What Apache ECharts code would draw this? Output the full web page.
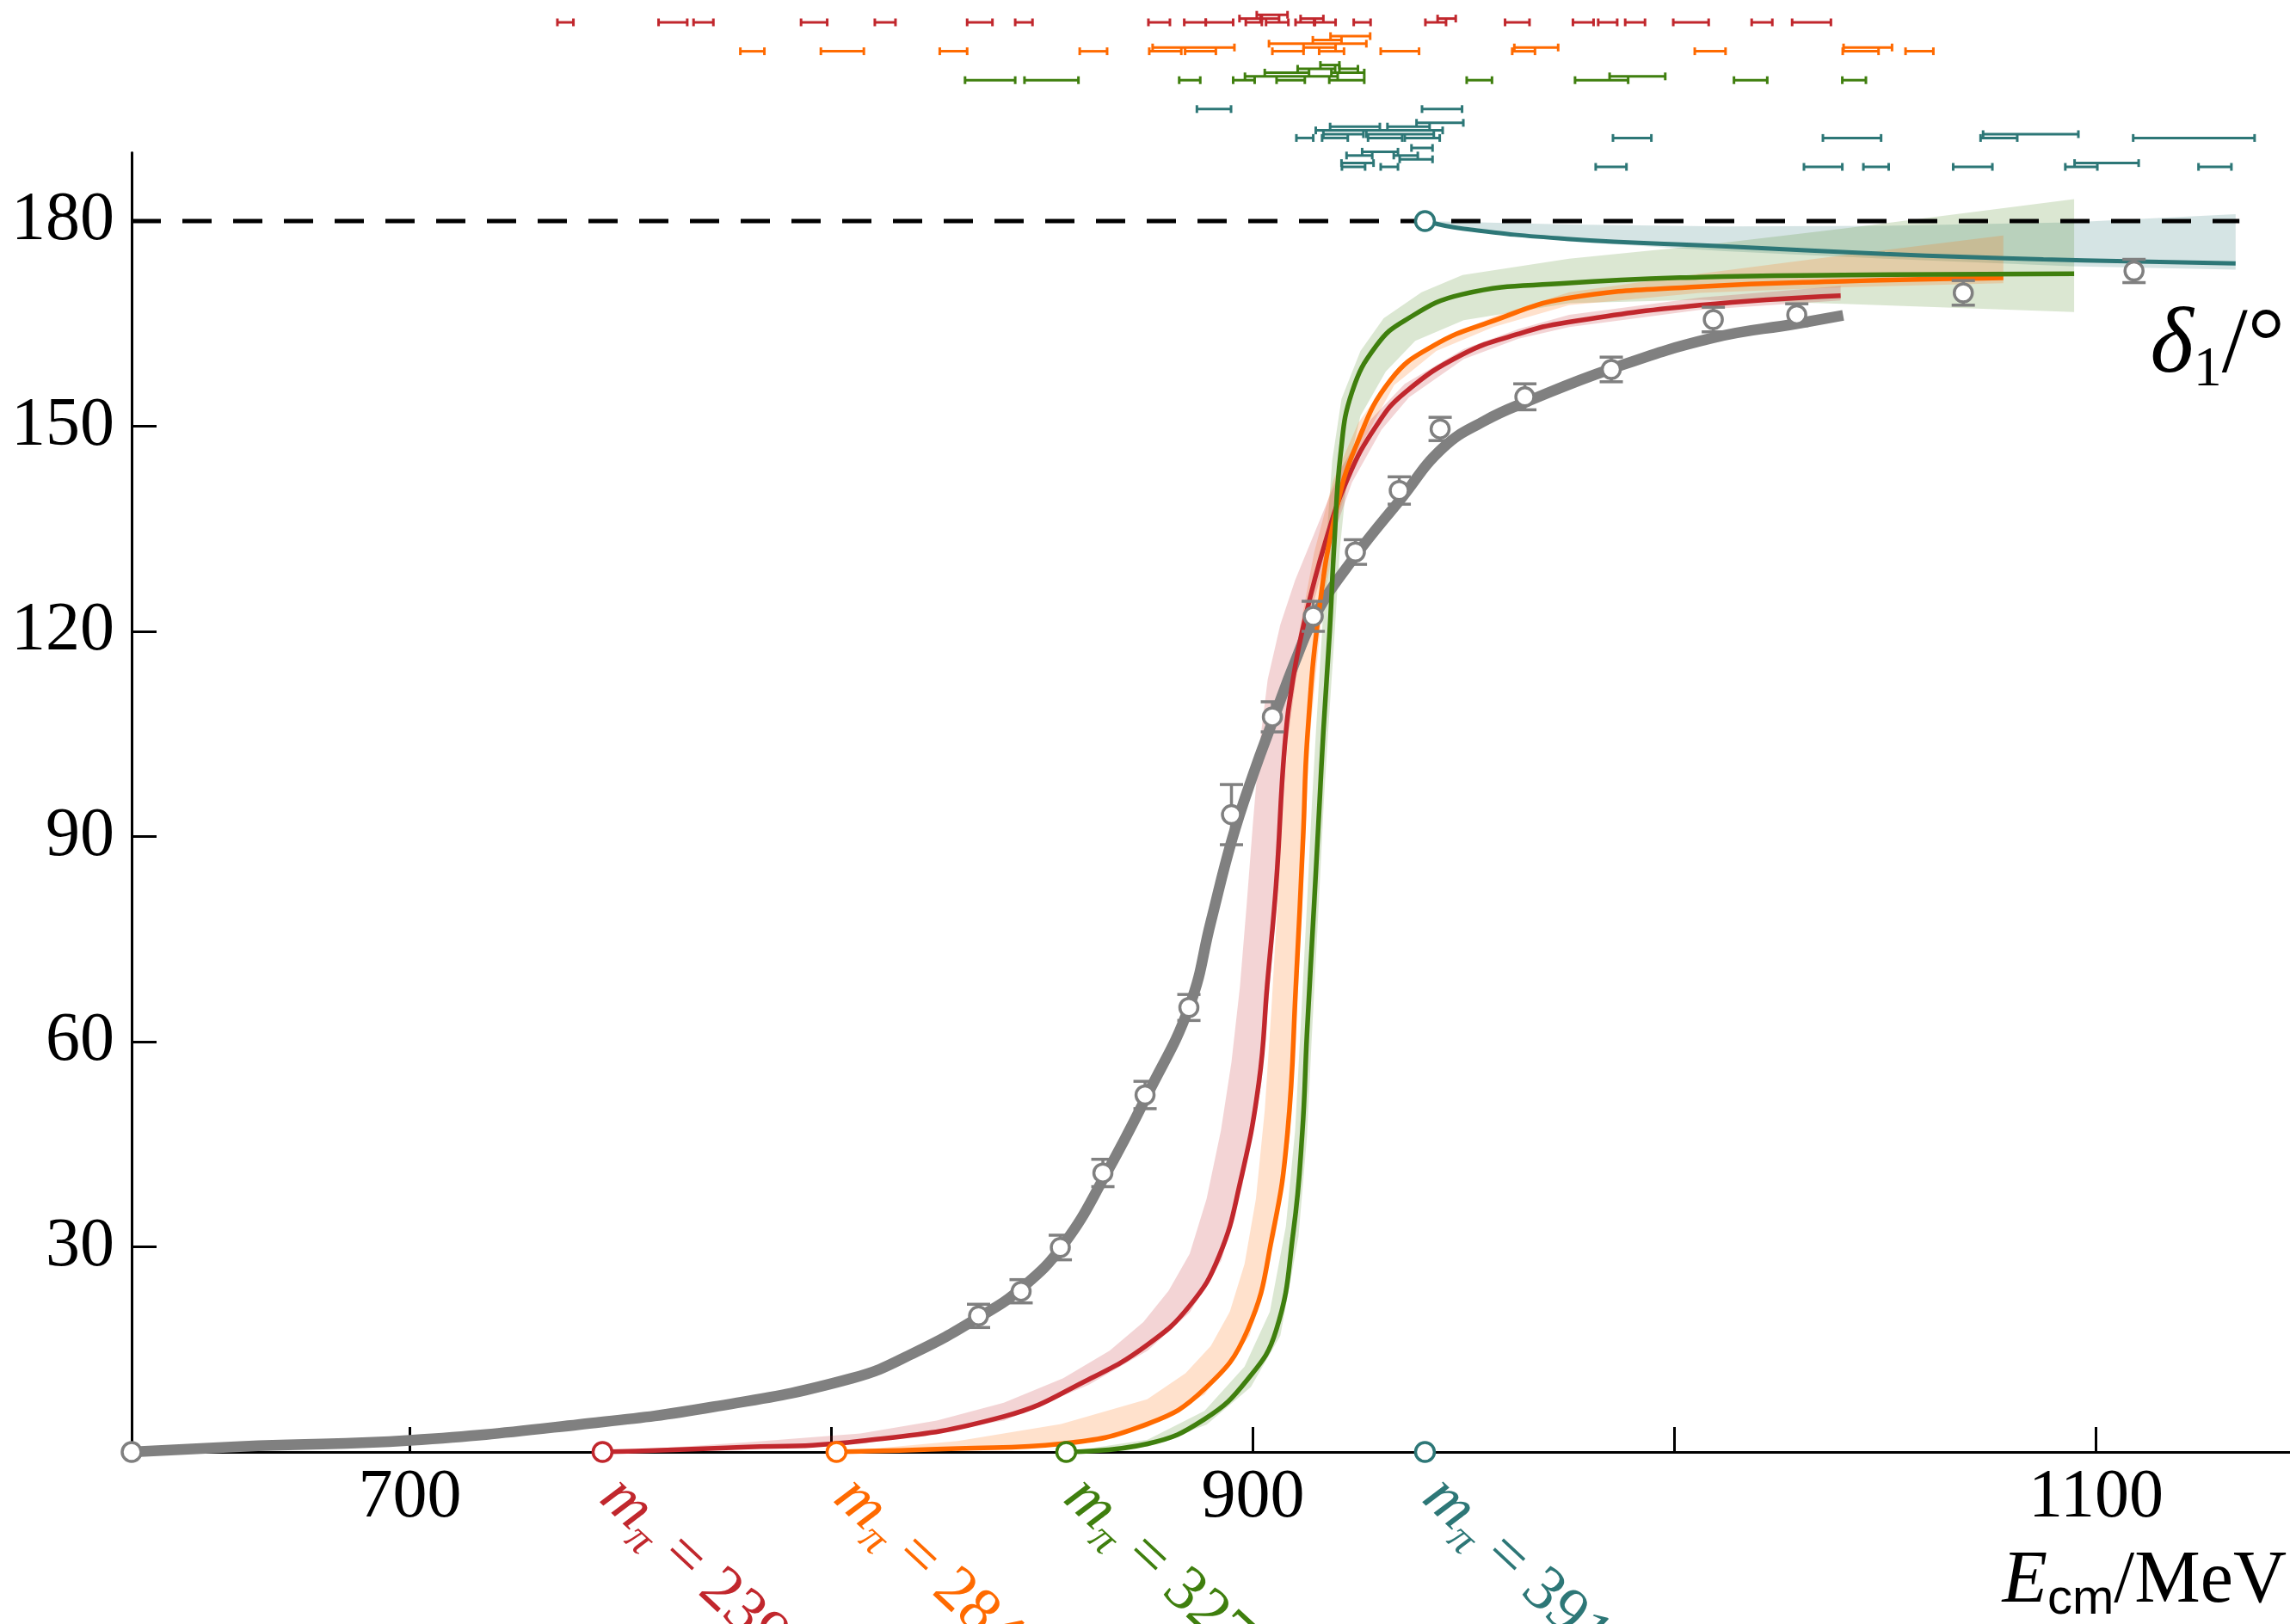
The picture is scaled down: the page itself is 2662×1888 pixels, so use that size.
<!DOCTYPE html>
<html>
<head>
<meta charset="utf-8">
<script src="https://cdn.jsdelivr.net/npm/echarts@6/dist/echarts.min.js"></script>
<style>
  html, body { margin: 0; padding: 0; background: #fff; }
  #chart { width: 2662px; height: 1888px; }
</style>
</head>
<body>
<div id="chart"></div>
<script>
// ---- axis ticks ----
const xTicks = [700, 800, 900, 1000, 1100];
const xTickLabels = [700, 900, 1100];
const yTicks = [30, 60, 90, 120, 150, 180];

// ---- experimental phase shift: [E_cm, delta_1, error] ----
const expData = [
  [834.9, 19.9, 1.7], [845.0, 23.5, 1.7], [854.3, 29.9, 1.8], [864.4, 40.8, 2.0],
  [874.4, 52.2, 2.0], [884.8, 65.0, 1.9], [894.9, 93.2, 4.4], [904.6, 107.5, 2.2],
  [914.3, 122.2, 2.2], [924.3, 131.6, 1.8], [934.7, 140.6, 2.0], [944.4, 149.6, 1.7],
  [964.5, 154.3, 1.9], [985.0, 158.3, 1.8], [1009.2, 165.6, 1.8], [1029.0, 166.3, 1.6],
  [1068.5, 169.5, 1.8], [1109.0, 172.7, 1.7]
];

// ---- physical-point fit ----
const fitPhys = [
  [634, 0], [664, 0.9], [700, 1.7], [740, 4.0], [772, 6.6], [805, 10.8], [820, 14.6],
  [835, 19.7], [845, 23.9], [855, 30.3], [865, 40.5], [875, 52.3], [885, 65.3], [890, 77.5],
  [895, 89.5], [900, 99], [905, 107.4], [910, 115.6], [915, 122.6], [924, 130.8],
  [935, 139.3], [945, 146.8], [955, 150.8], [965, 153.6], [985, 158.4], [1009, 162.9],
  [1029, 165.0], [1040, 166.2]
];

// ---- lattice fits, one per pion mass ----
const fit239 = [
  [745.7, 0], [775, 0.6], [807, 1.6], [841, 5.2], [861, 10.6], [875, 15.7], [885, 21.4],
  [892, 28.7], [897, 39.5], [901.4, 54], [903.4, 68.4], [905.5, 83], [907.5, 103],
  [909.5, 113], [912.3, 121.7], [917, 132.7], [922.5, 142.4], [929.3, 150.1], [936, 154.9],
  [949.7, 160.5], [963, 163.5], [974.5, 165.2], [1006, 167.7], [1039.4, 169.1]
];
const band239Hi = [
  [745.7, 0], [780, 1.4], [806.9, 2.7], [825, 4.6], [840.9, 7.2], [855, 10.8], [866, 14.8],
  [874, 19], [880, 23.6], [885, 29], [889, 37], [892.4, 47], [894.9, 57], [896.9, 68],
  [898.5, 80], [900, 92], [901.5, 103], [903.5, 113], [906.5, 121], [910, 127.5],
  [915, 135], [921, 144], [928, 151], [936, 156.2], [950, 161.3], [963, 164.2], [975, 166.3],
  [1006, 168.8], [1039.4, 170.5]
];
const band239Lo = [
  [745.7, 0], [807, 1.2], [841, 4.6], [861, 9.8], [875, 14.8], [885, 20.4], [892.5, 28],
  [897.5, 39], [902, 54], [904, 68.4], [906, 83], [908, 103], [910.2, 113], [913, 121.2],
  [918, 132.2], [923.5, 141.8], [930.5, 149.5], [937, 154.2], [950, 159.8], [963, 162.8],
  [975, 164.5], [1006, 167], [1039.4, 168.4]
];

const fit284 = [
  [801.2, 0], [830, 0.5], [854.5, 1.2], [875, 4.1], [888.5, 9.2], [898.7, 17.8],
  [904.8, 32.3], [908.2, 46.7], [910.2, 68.4], [911.9, 90], [912.9, 104.5], [915.7, 123.1],
  [919.7, 137.6], [924.5, 147.2], [932.7, 156.8], [942.9, 161.8], [956.5, 165.3],
  [974.5, 168.7], [1006, 170.4], [1040, 171.2], [1078, 171.7]
];
const band284Hi = [
  [801.2, 0], [830, 1.6], [854.5, 4.1], [874.9, 7.7], [884, 11.5], [890, 15.5], [894.5, 20.5],
  [898, 27.5], [900.7, 37], [902.8, 50], [904.4, 65], [905.8, 80], [907.2, 95], [908.7, 108],
  [911, 120], [914.5, 131.5], [919, 142], [925, 150.5], [933, 157.5], [944, 162.5], [957, 166],
  [975, 169.6], [1006, 172.3], [1040, 175], [1078, 177.9]
];
const band284Lo = [
  [801.2, 0], [854.5, 0.8], [875, 3.6], [888.5, 8.4], [899.2, 17], [905.3, 31.5],
  [908.7, 46], [910.7, 68], [912.4, 90], [913.4, 104], [916.3, 122.5], [920.3, 137],
  [925, 146.5], [933.5, 156], [943.5, 161], [957, 164.5], [975, 167.7], [1006, 169.5],
  [1040, 170.3], [1078, 170.9]
];

const fit327 = [
  [855.7, 0], [875, 1.2], [888.5, 4.8], [898.7, 10.6], [905.5, 17.8], [909.6, 32.3],
  [911.7, 46.7], [912.8, 61], [914.5, 80], [915.8, 95], [916.7, 105.4], [918.2, 120],
  [919.3, 133], [920.8, 146], [923.5, 155], [929.3, 161.8], [936.1, 165.5], [949.7, 169.3],
  [974.2, 170.9], [1006, 171.8], [1040, 172.1], [1094.8, 172.3]
];
const band327Hi = [
  [855.7, 0], [875, 1.8], [888.5, 6], [898, 12.5], [904, 20.5], [907.8, 33], [910, 47],
  [911.3, 62], [912.8, 80], [914, 95], [915, 106], [916.4, 120], [917.4, 133], [918.8, 145],
  [921, 154], [925.5, 161], [931, 165.8], [940, 169.6], [949.7, 172.1], [975, 174.5],
  [1006, 176.4], [1040, 178.9], [1094.8, 183.2]
];
const band327Lo = [
  [855.7, 0], [875, 0.8], [889, 4], [899.5, 9.5], [906.5, 17], [910.8, 31.5], [912.8, 46],
  [913.9, 60], [915.6, 80], [916.8, 95], [917.8, 105], [919.4, 120], [920.6, 132],
  [922.5, 143.5], [925.5, 151.5], [931.5, 158], [938.5, 162.5], [950, 165.5], [975, 168],
  [1006, 168.5], [1040, 167.9], [1094.8, 166.7]
];

const fit391 = [
  [940.8, 180], [949.7, 178.9], [974.5, 177.4], [1012.3, 176.3], [1049.9, 175.2],
  [1087.5, 174.4], [1133.1, 173.8]
];
const band391Hi = [
  [940.8, 180], [975, 179.5], [1012, 179.2], [1050, 179.3], [1094, 179.8], [1133.1, 181]
];
const band391Lo = [
  [940.8, 180], [975, 177], [1012, 175.6], [1050, 174.5], [1094, 173.4], [1133.1, 172.9]
];

// ---- thresholds on the energy axis ----
const physThreshold = [634, 0];
const thresholdE = [745.7, 801.2, 855.7, 940.8];
const pionMasses = ['239', '284', '327', '391'];
const boundState391 = [940.8, 180];
const asymptote = [[634, 180], [1134, 180]];

// ---- finite-volume energy levels: [E_low, E_high, row, stack] ----
const levels239 = [
  [735.0, 738.8, 0, 0], [759.0, 765.8, 0, 0], [767.3, 772.0, 0, 0], [792.8, 799.0, 0, 0],
  [810.3, 815.2, 0, 0], [832.2, 838.2, 0, 0], [843.6, 847.7, 0, 0], [875.2, 880.3, 0, 0],
  [883.7, 888.8, 0, 0], [888.8, 895.3, 0, 0], [898.3, 902.1, 0, 0], [903.1, 908.4, 0, 0],
  [910.1, 914.7, 0, 0], [914.5, 919.6, 0, 0], [923.9, 927.9, 0, 0], [940.9, 945.8, 0, 0],
  [959.8, 965.6, 0, 0], [975.9, 980.8, 0, 0], [981.9, 986.4, 0, 0], [988.3, 993.0, 0, 0],
  [999.7, 1008.1, 0, 0], [1018.3, 1023.2, 0, 0], [1027.9, 1037.1, 0, 0],
  [896.8, 901.8, 0, 1], [902.1, 906.2, 0, 1], [911.3, 916.7, 0, 1], [943.8, 948.1, 0, 1],
  [900.9, 908.2, 0, 2]
];
const levels284 = [
  [778.4, 784.1, 1, 0], [797.5, 807.7, 1, 0], [825.7, 832.2, 1, 0], [858.9, 865.4, 1, 0],
  [875.4, 883.0, 1, 0], [883.9, 891.2, 1, 0], [904.6, 912.0, 1, 0], [915.7, 921.6, 1, 0],
  [930.3, 939.4, 1, 0], [961.5, 966.9, 1, 0], [1004.8, 1012.1, 1, 0], [1039.9, 1048.4, 1, 0],
  [1054.8, 1061.4, 1, 0],
  [876.2, 895.6, 1, 1], [912.0, 919.6, 1, 1], [962.0, 972.4, 1, 1], [1040.1, 1051.6, 1, 1],
  [903.8, 926.9, 1, 2], [914.2, 921.0, 1, 3], [918.4, 927.8, 1, 4]
];
const levels327 = [
  [831.7, 843.6, 2, 0], [845.8, 858.6, 2, 0], [882.5, 887.5, 2, 0], [895.3, 900.4, 2, 0],
  [905.6, 912.3, 2, 0], [918.1, 926.4, 2, 0], [950.7, 956.7, 2, 0], [976.4, 989.0, 2, 0],
  [1014.1, 1022.0, 2, 0], [1039.8, 1045.4, 2, 0],
  [898.1, 920.1, 2, 1], [984.6, 997.8, 2, 1], [902.8, 913.3, 2, 2], [918.6, 926.4, 2, 2],
  [910.6, 919.5, 2, 3], [920.5, 924.9, 2, 3], [916.0, 920.5, 2, 4]
];
const levels391 = [
  [886.7, 894.8, 3, 0], [940.1, 949.6, 3, 0],
  [910.3, 914.3, 4, 0], [916.4, 922.5, 4, 0], [927.3, 935.4, 4, 0], [936.0, 944.3, 4, 0],
  [985.4, 994.5, 4, 0], [1035.2, 1049.0, 4, 0], [1072.6, 1081.3, 4, 0], [1108.8, 1137.6, 4, 0],
  [1073.2, 1095.8, 4, 1], [926.9, 942.9, 4, 1], [916.7, 926.2, 4, 1], [914.9, 945.0, 4, 2],
  [918.3, 930.1, 4, 3], [931.9, 941.9, 4, 3], [938.8, 949.9, 4, 4],
  [921.1, 926.6, 5, 0], [930.3, 934.4, 5, 0], [981.3, 988.6, 5, 0], [1030.7, 1039.8, 5, 0],
  [1044.8, 1050.8, 5, 0], [1066.1, 1075.4, 5, 0], [1092.7, 1100.3, 5, 0], [1124.3, 1132.1, 5, 0],
  [1094.9, 1110.1, 5, 1], [921.0, 928.6, 5, 1], [934.8, 942.6, 5, 2], [922.2, 928.3, 5, 3],
  [933.4, 939.1, 5, 3], [925.9, 934.4, 5, 4], [937.6, 942.6, 5, 5]
];

// ---- styling ----
const SERIF = "'Liberation Serif', 'DejaVu Serif', serif";
const SANS = "'Liberation Sans', 'DejaVu Sans', sans-serif";
const GRAY = '#808080';
const RED = '#c1272d';
const ORANGE = '#ff6a00';
const GREEN = '#3f7f0e';
const TEAL = '#2d7777';
const STACK_STEP = 0.131;

const chart = echarts.init(document.getElementById('chart'), null, { renderer: 'canvas' });

function bandSeries(hi, lo, fill) {
  return {
    type: 'custom', xAxisIndex: 0, yAxisIndex: 0, silent: true, z: 1,
    data: [hi[0]],
    renderItem: function (params, api) {
      const pts = hi.map(p => api.coord(p)).concat(lo.slice().reverse().map(p => api.coord(p)));
      return { type: 'polygon', shape: { points: pts }, style: { fill: fill } };
    }
  };
}

function curveSeries(data, color, width, z) {
  return {
    type: 'line', xAxisIndex: 0, yAxisIndex: 0, data: data, symbol: 'none', silent: true,
    smooth: 0.45, z: z,
    lineStyle: { color: color, width: width }
  };
}

function levelSeries(data, color) {
  return {
    type: 'custom', xAxisIndex: 1, yAxisIndex: 1, silent: true, clip: false, z: 5,
    encode: { x: [0, 1], y: 2 },
    data: data,
    renderItem: function (params, api) {
      const yv = api.value(2) - api.value(3) * STACK_STEP;
      const a = api.coord([api.value(0), yv]);
      const b = api.coord([api.value(1), yv]);
      const h = 4.5;
      const st = { stroke: color, lineWidth: 3 };
      return {
        type: 'group', children: [
          { type: 'line', shape: { x1: a[0], y1: a[1], x2: b[0], y2: b[1] }, style: st },
          { type: 'line', shape: { x1: a[0], y1: a[1] - h, x2: a[0], y2: a[1] + h }, style: st },
          { type: 'line', shape: { x1: b[0], y1: b[1] - h, x2: b[0], y2: b[1] + h }, style: st }
        ]
      };
    }
  };
}

function thresholdSeries(E, color, mass) {
  return {
    type: 'scatter', xAxisIndex: 0, yAxisIndex: 0, clip: false, silent: true, z: 20,
    data: [[E, 0]], symbol: 'circle', symbolSize: 22,
    itemStyle: { color: '#fff', borderColor: color, borderWidth: 3.5, opacity: 1 },
    label: {
      show: true, position: [46, 28], rotate: -43, align: 'left', verticalAlign: 'top',
      formatter: '{i|m}{s|π}{n| = ' + mass + '}',
      rich: {
        i: { fontFamily: SERIF, fontStyle: 'italic', fontSize: 74, color: color, verticalAlign: 'bottom', padding: [0, 0, 9, 0] },
        s: { fontFamily: SERIF, fontStyle: 'italic', fontSize: 50, color: color, verticalAlign: 'bottom' },
        n: { fontFamily: SERIF, fontSize: 74, color: color, verticalAlign: 'bottom', padding: [0, 0, 9, 0] }
      }
    }
  };
}

const axisLabelFont = { fontFamily: SERIF, fontSize: 80, color: '#000', formatter: v => String(v) };

const option = {
  animation: false,
  backgroundColor: '#fff',
  grid: [
    { left: 153, right: 0, top: 177.5, bottom: 200, containLabel: false, outerBoundsMode: 'none' },
    { left: 153, right: 0, top: 9.2, height: 201.6, containLabel: false, outerBoundsMode: 'none' }
  ],
  xAxis: [
    {
      type: 'value', gridIndex: 0, min: 634, max: 1146,
      axisLine: { show: true, onZero: false, lineStyle: { color: '#000', width: 3 } },
      axisTick: { show: true, inside: true, length: 29, customValues: xTicks, lineStyle: { color: '#000', width: 3 } },
      axisLabel: Object.assign({ show: true, margin: 14, customValues: xTickLabels }, axisLabelFont),
      splitLine: { show: false }
    },
    { type: 'value', gridIndex: 1, min: 634, max: 1146, show: false }
  ],
  yAxis: [
    {
      type: 'value', gridIndex: 0, min: 0, max: 190,
      axisLine: { show: true, onZero: false, lineStyle: { color: '#000', width: 3 } },
      axisTick: { show: true, inside: true, length: 29, customValues: yTicks, lineStyle: { color: '#000', width: 3 } },
      axisLabel: Object.assign({ show: true, margin: 20, customValues: yTicks }, axisLabelFont),
      splitLine: { show: false }
    },
    { type: 'value', gridIndex: 1, min: -0.5, max: 5.5, inverse: true, show: false }
  ],
  series: [
    bandSeries(band391Hi, band391Lo, 'rgba(45,119,119,0.2)'),
    bandSeries(band327Hi, band327Lo, 'rgba(63,127,14,0.19)'),
    bandSeries(band284Hi, band284Lo, 'rgba(255,106,0,0.2)'),
    bandSeries(band239Hi, band239Lo, 'rgba(193,39,45,0.2)'),
    curveSeries(fitPhys, GRAY, 12.5, 3),
    curveSeries(fit239, RED, 5.5, 4),
    curveSeries(fit284, ORANGE, 5.5, 4),
    curveSeries(fit327, GREEN, 5.5, 4),
    curveSeries(fit391, TEAL, 5, 4),
    {
      type: 'line', xAxisIndex: 0, yAxisIndex: 0, data: asymptote, symbol: 'none', silent: true, z: 6,
      lineStyle: { color: '#000', width: 5, type: [34, 25] }
    },
    {
      type: 'custom', xAxisIndex: 0, yAxisIndex: 0, silent: true, z: 7, data: expData,
      renderItem: function (params, api) {
        const x = api.value(0), y = api.value(1), e = api.value(2);
        const t = api.coord([x, y + e]), b = api.coord([x, y - e]);
        const w = 13.5;
        const st = { stroke: GRAY, lineWidth: 3.5 };
        return {
          type: 'group', children: [
            { type: 'line', shape: { x1: t[0], y1: t[1], x2: b[0], y2: b[1] }, style: st },
            { type: 'line', shape: { x1: t[0] - w, y1: t[1], x2: t[0] + w, y2: t[1] }, style: st },
            { type: 'line', shape: { x1: b[0] - w, y1: b[1], x2: b[0] + w, y2: b[1] }, style: st }
          ]
        };
      }
    },
    {
      type: 'scatter', xAxisIndex: 0, yAxisIndex: 0, silent: true, z: 8,
      data: expData.map(d => [d[0], d[1]]), symbol: 'circle', symbolSize: 21,
      itemStyle: { color: '#fff', borderColor: GRAY, borderWidth: 3.5, opacity: 1 }
    },
    {
      type: 'scatter', xAxisIndex: 0, yAxisIndex: 0, clip: false, silent: true, z: 20,
      data: [physThreshold], symbol: 'circle', symbolSize: 22,
      itemStyle: { color: '#fff', borderColor: GRAY, borderWidth: 3.5, opacity: 1 }
    },
    thresholdSeries(thresholdE[0], RED, pionMasses[0]),
    thresholdSeries(thresholdE[1], ORANGE, pionMasses[1]),
    thresholdSeries(thresholdE[2], GREEN, pionMasses[2]),
    thresholdSeries(thresholdE[3], TEAL, pionMasses[3]),
    {
      type: 'scatter', xAxisIndex: 0, yAxisIndex: 0, clip: false, silent: true, z: 20,
      data: [boundState391], symbol: 'circle', symbolSize: 22,
      itemStyle: { color: '#fff', borderColor: TEAL, borderWidth: 3.5, opacity: 1 }
    },
    levelSeries(levels239, RED),
    levelSeries(levels284, ORANGE),
    levelSeries(levels327, GREEN),
    levelSeries(levels391, TEAL)
  ],
  graphic: [
    {
      type: 'text', right: 4, top: 1796, silent: true,
      style: {
        text: '{e|E}{c|cm}{r|/MeV}',
        rich: {
          e: { fontFamily: SERIF, fontStyle: 'italic', fontSize: 86, fill: '#000', verticalAlign: 'bottom', padding: [0, 0, 7, 0] },
          c: { fontFamily: SANS, fontSize: 58, fill: '#000', verticalAlign: 'bottom' },
          r: { fontFamily: SERIF, fontSize: 86, fill: '#000', verticalAlign: 'bottom', padding: [0, 0, 7, 0] }
        }
      }
    },
    {
      type: 'text', right: 6, top: 350, silent: true,
      style: {
        text: '{d|δ}{s|1}{r|/°}',
        rich: {
          d: { fontFamily: SERIF, fontStyle: 'italic', fontSize: 108, fill: '#000', verticalAlign: 'bottom', padding: [0, 0, 6, 0] },
          s: { fontFamily: SERIF, fontSize: 66, fill: '#000', verticalAlign: 'bottom' },
          r: { fontFamily: SERIF, fontSize: 108, fill: '#000', verticalAlign: 'bottom', padding: [0, 0, 6, 0] }
        }
      }
    }
  ]
};

chart.setOption(option);
</script>
</body>
</html>
